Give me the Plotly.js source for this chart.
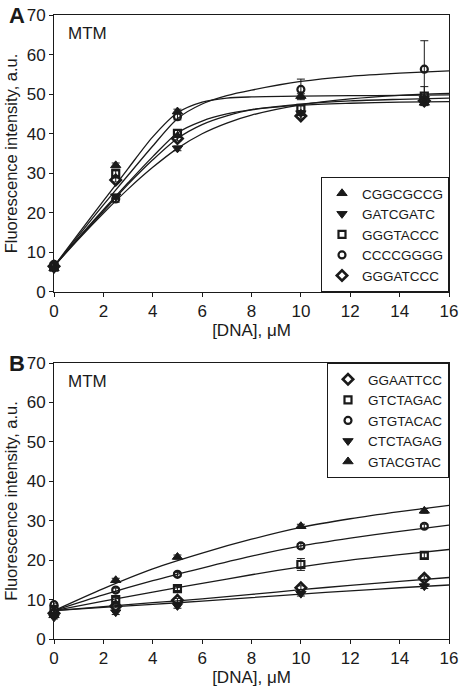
<!DOCTYPE html>
<html>
<head>
<meta charset="utf-8">
<script src="https://cdn.plot.ly/plotly-3.0.1.min.js"></script>
<style>html,body{margin:0;padding:0;background:#fff;}#chart{width:462px;height:690px;}</style>
</head>
<body>
<div id="chart"></div>
<script>
// ---- data ----
var dnaPoints = [0, 2.5, 5, 10, 15];
var fitX_A = [0, 1, 2, 3, 4, 5, 6, 7, 8, 10, 12, 14, 16];
var fitX_B = [0, 2, 4, 6, 8, 10, 12, 14, 16];

// Panel A
var namesA = ["CGGCGCCG", "GATCGATC", "GGGTACCC", "CCCCGGGG", "GGGATCCC"];
var a_CGGCGCCG = [6.0, 32.0, 45.6, 49.5, 47.8];
var a_GATCGATC = [5.8, 24.2, 36.3, 45.2, 48.8];
var a_GGGTACCC = [6.3, 30.0, 40.1, 46.4, 49.5];
var a_CCCCGGGG = [7.0, 23.5, 44.3, 51.2, 56.3];
var a_GGGATCCC = [6.5, 28.3, 38.8, 44.5, 48.3];
var aErr_CGGCGCCG = [0.5, 0.6, 0.6, 0.6, 0.5];
var aErr_GATCGATC = [0.4, 0.5, 0.6, 0.6, 0.6];
var aErr_GGGTACCC = [0.4, 0.6, 0.8, 0.6, 2.4];
var aErr_CCCCGGGG = [0.5, 0.8, 0.8, 2.6, 7.2];
var aErr_GGGATCCC = [0.4, 0.5, 0.6, 0.6, 0.6];
var aFit_CGGCGCCG = [6.5, 14.8, 23.0, 31.2, 39.2, 45.3, 48.0, 49.0, 49.3, 49.5, 49.6, 49.7, 49.8];
var aFit_GATCGATC = [6.5, 13.4, 19.9, 26.0, 31.5, 36.3, 40.0, 42.7, 44.7, 47.3, 48.8, 49.7, 50.2];
var aFit_GGGTACCC = [6.5, 13.8, 20.8, 27.6, 34.2, 40.2, 43.2, 45.0, 46.1, 47.5, 48.3, 48.7, 49.0];
var aFit_CCCCGGGG = [6.5, 14.3, 22.0, 29.5, 36.9, 43.8, 47.5, 49.6, 51.0, 53.2, 54.5, 55.3, 55.9];
var aFit_GGGATCCC = [6.5, 13.6, 20.4, 27.2, 33.4, 38.8, 42.3, 44.5, 46.0, 47.2, 47.7, 48.0, 48.1];

// Panel B
var namesB = ["GGAATTCC", "GTCTAGAC", "GTGTACAC", "CTCTAGAG", "GTACGTAC"];
var b_GGAATTCC = [6.5, 8.3, 9.8, 13.0, 15.4];
var b_GTCTAGAC = [7.5, 10.0, 12.8, 18.9, 21.2];
var b_GTGTACAC = [8.7, 12.4, 16.4, 23.6, 28.6];
var b_CTCTAGAG = [5.5, 6.8, 8.4, 11.5, 13.4];
var b_GTACGTAC = [6.0, 14.9, 20.8, 28.6, 32.5];
var bErr_GGAATTCC = [0.4, 0.4, 0.5, 0.5, 0.6];
var bErr_GTCTAGAC = [0.4, 0.5, 0.5, 1.5, 0.6];
var bErr_GTGTACAC = [0.4, 0.5, 0.5, 0.6, 0.5];
var bErr_CTCTAGAG = [0.4, 0.6, 0.6, 0.6, 0.6];
var bErr_GTACGTAC = [0.4, 0.5, 0.5, 0.5, 0.6];
var bFit_GGAATTCC = [7.2, 8.2, 9.2, 10.2, 11.3, 12.5, 13.6, 14.6, 15.6];
var bFit_GTCTAGAC = [7.2, 9.6, 11.9, 14.1, 16.3, 18.3, 20.0, 21.4, 22.7];
var bFit_GTGTACAC = [7.2, 11.2, 14.8, 18.0, 21.0, 23.6, 25.6, 27.3, 28.9];
var bFit_CTCTAGAG = [7.2, 8.0, 8.8, 9.6, 10.5, 11.4, 12.2, 13.0, 13.7];
var bFit_GTACGTAC = [7.2, 12.8, 17.8, 21.8, 25.3, 28.3, 30.5, 32.3, 33.9];

var xTicks = [0, 2, 4, 6, 8, 10, 12, 14, 16];
var yTicks = [0, 10, 20, 30, 40, 50, 60, 70];

// ---- styling ----
var FONT = "Liberation Sans, Arial, sans-serif";
var INK = "#1a1a1a";
var markerStyles = {
  up:      {symbol: "triangle-up", size: 9, color: INK, line: {width: 1, color: INK}},
  down:    {symbol: "triangle-down", size: 9, color: INK, line: {width: 1, color: INK}},
  square:  {symbol: "square-open", size: 7, color: INK, line: {width: 2.2, color: INK}},
  circle:  {symbol: "circle-open", size: 7, color: INK, line: {width: 2.2, color: INK}},
  diamond: {symbol: "diamond-open", size: 8, color: INK, line: {width: 2.6, color: INK}}
};

function pts(name, y, err, mk, xa, ya, leg) {
  return {
    type: "scatter", mode: "markers", name: name, x: dnaPoints, y: y,
    xaxis: xa, yaxis: ya, legend: leg,
    marker: markerStyles[mk],
    error_y: {type: "data", array: err, visible: true, color: INK, thickness: 1, width: 4},
    cliponaxis: false
  };
}
function fit(xs, y, xa, ya) {
  return {
    type: "scatter", mode: "lines", x: xs, y: y, xaxis: xa, yaxis: ya,
    line: {color: INK, width: 1.3, shape: "spline", smoothing: 0.8},
    showlegend: false, hoverinfo: "skip"
  };
}

var data = [
  fit(fitX_A, aFit_CGGCGCCG, "x", "y"),
  fit(fitX_A, aFit_GATCGATC, "x", "y"),
  fit(fitX_A, aFit_GGGTACCC, "x", "y"),
  fit(fitX_A, aFit_CCCCGGGG, "x", "y"),
  fit(fitX_A, aFit_GGGATCCC, "x", "y"),
  pts(namesA[0], a_CGGCGCCG, aErr_CGGCGCCG, "up", "x", "y", "legend"),
  pts(namesA[1], a_GATCGATC, aErr_GATCGATC, "down", "x", "y", "legend"),
  pts(namesA[2], a_GGGTACCC, aErr_GGGTACCC, "square", "x", "y", "legend"),
  pts(namesA[3], a_CCCCGGGG, aErr_CCCCGGGG, "circle", "x", "y", "legend"),
  pts(namesA[4], a_GGGATCCC, aErr_GGGATCCC, "diamond", "x", "y", "legend"),

  fit(fitX_B, bFit_GGAATTCC, "x2", "y2"),
  fit(fitX_B, bFit_GTCTAGAC, "x2", "y2"),
  fit(fitX_B, bFit_GTGTACAC, "x2", "y2"),
  fit(fitX_B, bFit_CTCTAGAG, "x2", "y2"),
  fit(fitX_B, bFit_GTACGTAC, "x2", "y2"),
  pts(namesB[0], b_GGAATTCC, bErr_GGAATTCC, "diamond", "x2", "y2", "legend2"),
  pts(namesB[1], b_GTCTAGAC, bErr_GTCTAGAC, "square", "x2", "y2", "legend2"),
  pts(namesB[2], b_GTGTACAC, bErr_GTGTACAC, "circle", "x2", "y2", "legend2"),
  pts(namesB[3], b_CTCTAGAG, bErr_CTCTAGAG, "down", "x2", "y2", "legend2"),
  pts(namesB[4], b_GTACGTAC, bErr_GTACGTAC, "up", "x2", "y2", "legend2")
];

function xAxis(anchor) {
  return {
    anchor: anchor, range: [0, 16], tickvals: xTicks, ticktext: xTicks.map(String),
    ticks: "outside", ticklen: 4, tickcolor: INK, tickwidth: 1,
    showline: true, linecolor: INK, linewidth: 1, mirror: true,
    showgrid: false, zeroline: false,
    tickfont: {family: FONT, size: 17, color: INK},
    title: {text: "[DNA], \u03bcM", font: {family: FONT, size: 17, color: INK}, standoff: 2}
  };
}
function yAxis(anchor, domain) {
  return {
    anchor: anchor, domain: domain, range: [0, 70], tickvals: yTicks, ticktext: yTicks.map(String),
    ticks: "outside", ticklen: 4, tickcolor: INK, tickwidth: 1,
    showline: true, linecolor: INK, linewidth: 1, mirror: true,
    showgrid: false, zeroline: false,
    tickfont: {family: FONT, size: 17, color: INK},
    title: {text: "Fluorescence intensity, a.u.", font: {family: FONT, size: 16.5, color: INK}, standoff: 4}
  };
}

var legendBase = {
  xref: "paper", yref: "paper", x: 1, xanchor: "right",
  bgcolor: "#ffffff", bordercolor: INK, borderwidth: 1,
  font: {family: FONT, size: 13.5, color: INK}, itemwidth: 30, tracegroupgap: 0
};

var layout = {
  width: 462, height: 690,
  margin: {l: 54, r: 13, t: 15, b: 51},
  paper_bgcolor: "#ffffff", plot_bgcolor: "#ffffff",
  font: {family: FONT, size: 14, color: INK},
  xaxis: xAxis("y"),
  yaxis: yAxis("x", [0.5561, 1]),
  xaxis2: xAxis("y2"),
  yaxis2: yAxis("x2", [0, 0.4423]),
  legend: Object.assign({}, legendBase, {y: 0.5561, yanchor: "bottom"}),
  legend2: Object.assign({}, legendBase, {y: 0.4423, yanchor: "top"}),
  showlegend: true,
  annotations: [
    {text: "<b>A</b>", xref: "paper", yref: "paper", x: -0.12, y: 1.0, xanchor: "left", yanchor: "middle",
     showarrow: false, font: {family: FONT, size: 22, color: INK}},
    {text: "<b>B</b>", xref: "paper", yref: "paper", x: -0.12, y: 0.4423, xanchor: "left", yanchor: "middle",
     showarrow: false, font: {family: FONT, size: 22, color: INK}},
    {text: "MTM", xref: "x", yref: "y", x: 0.5, y: 65.3, xanchor: "left", yanchor: "middle",
     showarrow: false, font: {family: FONT, size: 17, color: INK}},
    {text: "MTM", xref: "x2", yref: "y2", x: 0.5, y: 65.3, xanchor: "left", yanchor: "middle",
     showarrow: false, font: {family: FONT, size: 17, color: INK}}
  ]
};

Plotly.newPlot("chart", data, layout, {staticPlot: true, displayModeBar: false});
</script>
</body>
</html>
